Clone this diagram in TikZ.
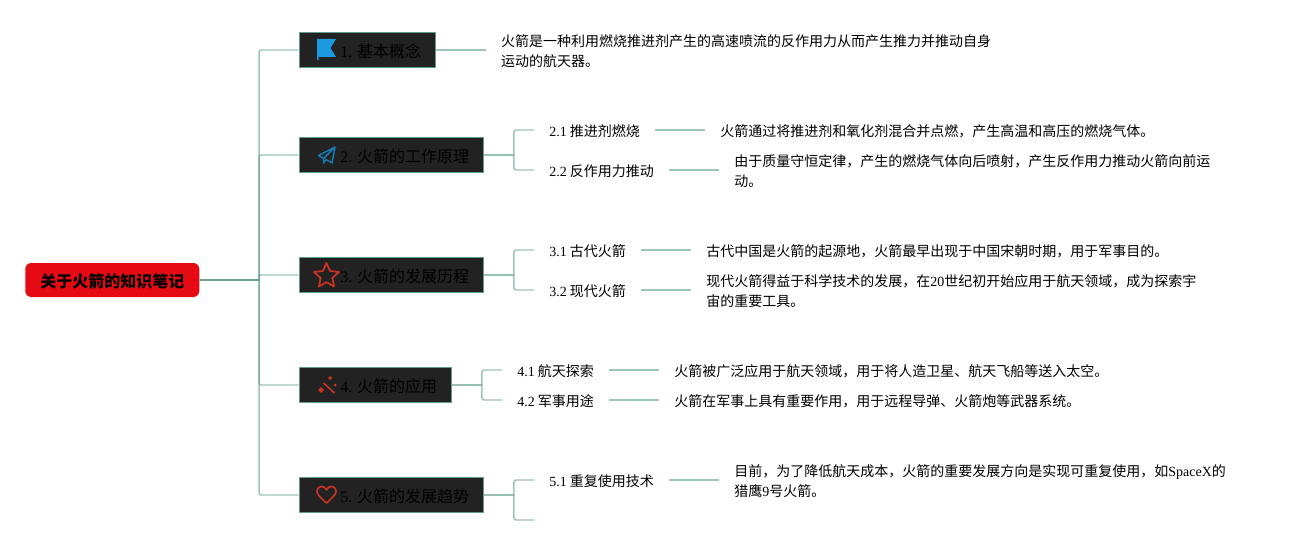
\documentclass[tikz,border=0pt]{standalone}
\usepackage{fontspec}
\setmainfont{Liberation Serif}
\newfontfamily\cjk{Noto Sans CJK SC}
\usetikzlibrary{positioning}
\definecolor{linkgreen}{HTML}{5F9C8B}
\definecolor{boxfill}{HTML}{222222}
\definecolor{rootred}{HTML}{E60A14}
\definecolor{iconblue}{HTML}{1B9AE0}
\definecolor{iconred}{HTML}{CC3322}
\newcommand{\wnum}[1]{{\rmfamily #1}}
\newcommand{\lowerline}{\rule{0pt}{11pt}}

\begin{document}
\begin{tikzpicture}[x=0.75pt, y=-0.75pt, node distance=37.5pt]
	\tikzset{
		rootbox/.style={draw=none,fill=rootred,rounded corners=4.5pt,minimum width=130.5pt,minimum height=25.5pt,inner sep=0pt,text=black,font=\fontsize{12}{15}\selectfont\cjk\bfseries,execute at begin node={\rule{0pt}{12pt}}},
		mainbox/.style={draw=linkgreen,fill=boxfill,line width=0.6pt,minimum height=26.25pt,inner xsep=0pt,inner ysep=0pt,text=black,font=\fontsize{12}{15}\selectfont\cjk,execute at begin node={\rule{0pt}{12pt}\hspace*{20.25pt}}},
		subbox/.style={inner xsep=11.25pt,inner ysep=0pt,font=\fontsize{10.5}{15}\selectfont\cjk,execute at begin node={\rule{0pt}{10.5pt}}},
		notebox/.style={inner xsep=11.25pt,inner ysep=0pt,align=left,font=\fontsize{10.5}{15}\selectfont\cjk,execute at begin node={\rule{0pt}{10.5pt}}},
		link/.style={draw=linkgreen,opacity=0.6,line width=1.1pt}
	}
	\useasboundingbox (0,0) rectangle (1294,545);

	\node[rootbox,anchor=west] (root) at (25,280) {关于火箭的知识笔记};
	\node[mainbox,anchor=west,minimum width=102.5pt] (b1) at (298.5,50) {\wnum{1.} 基本概念};
	\node[mainbox,anchor=west,minimum width=138.5pt] (b2) at (298.5,155) {\wnum{2.} 火箭的工作原理};
	\node[mainbox,anchor=west,minimum width=138.5pt] (b3) at (298.5,275) {\wnum{3.} 火箭的发展历程};
	\node[mainbox,anchor=west,minimum width=114.5pt] (b4) at (298.5,385) {\wnum{4.} 火箭的应用};
	\node[mainbox,anchor=west,minimum width=138.5pt] (b5) at (298.5,495) {\wnum{5.} 火箭的发展趋势};

	\node[subbox,anchor=west] (s21) at (534,130) {\wnum{2.1} 推进剂燃烧};
	\node[subbox,anchor=west] (s22) at (534,170) {\wnum{2.2} 反作用力推动};
	\node[subbox,anchor=west] (s31) at (534,250) {\wnum{3.1} 古代火箭};
	\node[subbox,anchor=west] (s32) at (534,290) {\wnum{3.2} 现代火箭};
	\node[subbox,anchor=west] (s41) at (502,370) {\wnum{4.1} 航天探索};
	\node[subbox,anchor=west] (s42) at (502,400) {\wnum{4.2} 军事用途};
	\node[subbox,anchor=west] (s51) at (534,480) {\wnum{5.1} 重复使用技术};
	\coordinate (s52) at (534,520);

	\node[notebox,right=of b1] (t1) {\lowerline 火箭是一种利用燃烧推进剂产生的高速喷流的反作用力从而产生推力并推动自身\\运动的航天器。};
	\node[notebox,right=of s21] (t21) {火箭通过将推进剂和氧化剂混合并点燃，产生高温和高压的燃烧气体。};
	\node[notebox,right=of s22] (t22) {\lowerline 由于质量守恒定律，产生的燃烧气体向后喷射，产生反作用力推动火箭向前运\\动。};
	\node[notebox,right=of s31] (t31) {古代中国是火箭的起源地，火箭最早出现于中国宋朝时期，用于军事目的。};
	\node[notebox,right=of s32] (t32) {\lowerline 现代火箭得益于科学技术的发展，在\wnum{20}世纪初开始应用于航天领域，成为探索宇\\宙的重要工具。};
	\node[notebox,right=of s41] (t41) {火箭被广泛应用于航天领域，用于将人造卫星、航天飞船等送入太空。};
	\node[notebox,right=of s42] (t42) {火箭在军事上具有重要作用，用于远程导弹、火箭炮等武器系统。};
	\node[notebox,right=of s51] (t51) {\lowerline 目前，为了降低航天成本，火箭的重要发展方向是实现可重复使用，如\wnum{SpaceX}的\\猎鹰\wnum{9}号火箭。};

	\draw[link] (root.east) -- ++(59.5,0) [rounded corners=1.5pt] |- (b1.west);
	\draw[link] (root.east) -- ++(59.5,0) [rounded corners=1.5pt] |- (b2.west);
	\draw[link] (root.east) -- ++(59.5,0) [rounded corners=1.5pt] |- (b3.west);
	\draw[link] (root.east) -- ++(59.5,0) [rounded corners=1.5pt] |- (b4.west);
	\draw[link] (root.east) -- ++(59.5,0) [rounded corners=1.5pt] |- (b5.west);

	\draw[link] (b1.east) -- (t1.west);
	\draw[link] (b2.east) -- ++(30,0) [rounded corners=1.5pt] |- (s21.west);
	\draw[link] (b2.east) -- ++(30,0) [rounded corners=1.5pt] |- (s22.west);
	\draw[link] (b3.east) -- ++(30,0) [rounded corners=1.5pt] |- (s31.west);
	\draw[link] (b3.east) -- ++(30,0) [rounded corners=1.5pt] |- (s32.west);
	\draw[link] (b4.east) -- ++(30,0) [rounded corners=1.5pt] |- (s41.west);
	\draw[link] (b4.east) -- ++(30,0) [rounded corners=1.5pt] |- (s42.west);
	\draw[link] (b5.east) -- ++(30,0) [rounded corners=1.5pt] |- (s51.west);
	\draw[link] (b5.east) -- ++(30,0) [rounded corners=1.5pt] |- (s52);

	\draw[link] (s21) -- (t21);
	\draw[link] (s22) -- (t22);
	\draw[link] (s31) -- (t31);
	\draw[link] (s32) -- (t32);
	\draw[link] (s41) -- (t41);
	\draw[link] (s42) -- (t42);
	\draw[link] (s51) -- (t51);

	% icons
	\fill[iconblue] (317,39) -- (336,39) -- (330.5,48) -- (336,57) -- (318.5,57) -- (318.5,60) -- (317,60) -- cycle;
	\draw[iconblue!80!black,line width=1.1pt,line join=round] (335,147) -- (318.5,155.5) -- (323.5,158.5) -- (335,147) -- (332,163) -- (326,159.5) -- (323.5,163) -- (323.5,158.5);
	\draw[iconred,line width=1.3pt,line join=round] (326.5,263) -- (330.1,271) -- (338.9,272) -- (332.4,277.9) -- (334.1,286.5) -- (326.5,282.2) -- (318.9,286.5) -- (320.6,277.9) -- (314.1,272) -- (322.9,271) -- cycle;
	\draw[iconred,line width=1.2pt] (323.5,383) -- (334.5,393);
	\fill[iconred] (318,390) -- (321,387) -- (324,390) -- (321,393) -- cycle;
	\fill[iconred] (328,378) -- (330,376) -- (332,378) -- (330,380) -- cycle;
	\fill[iconred] (333.5,385) -- (335,383.5) -- (336.5,385) -- (335,386.5) -- cycle;
	\draw[iconred,line width=1.2pt,line join=round] (326.5,503) .. controls (320,497) and (317,494.5) .. (317,491.5) .. controls (317,485) and (325,485) .. (326.5,490) .. controls (328,485) and (336,485) .. (336,491.5) .. controls (336,494.5) and (333,497) .. (326.5,503) -- cycle;
\end{tikzpicture}
\end{document}
